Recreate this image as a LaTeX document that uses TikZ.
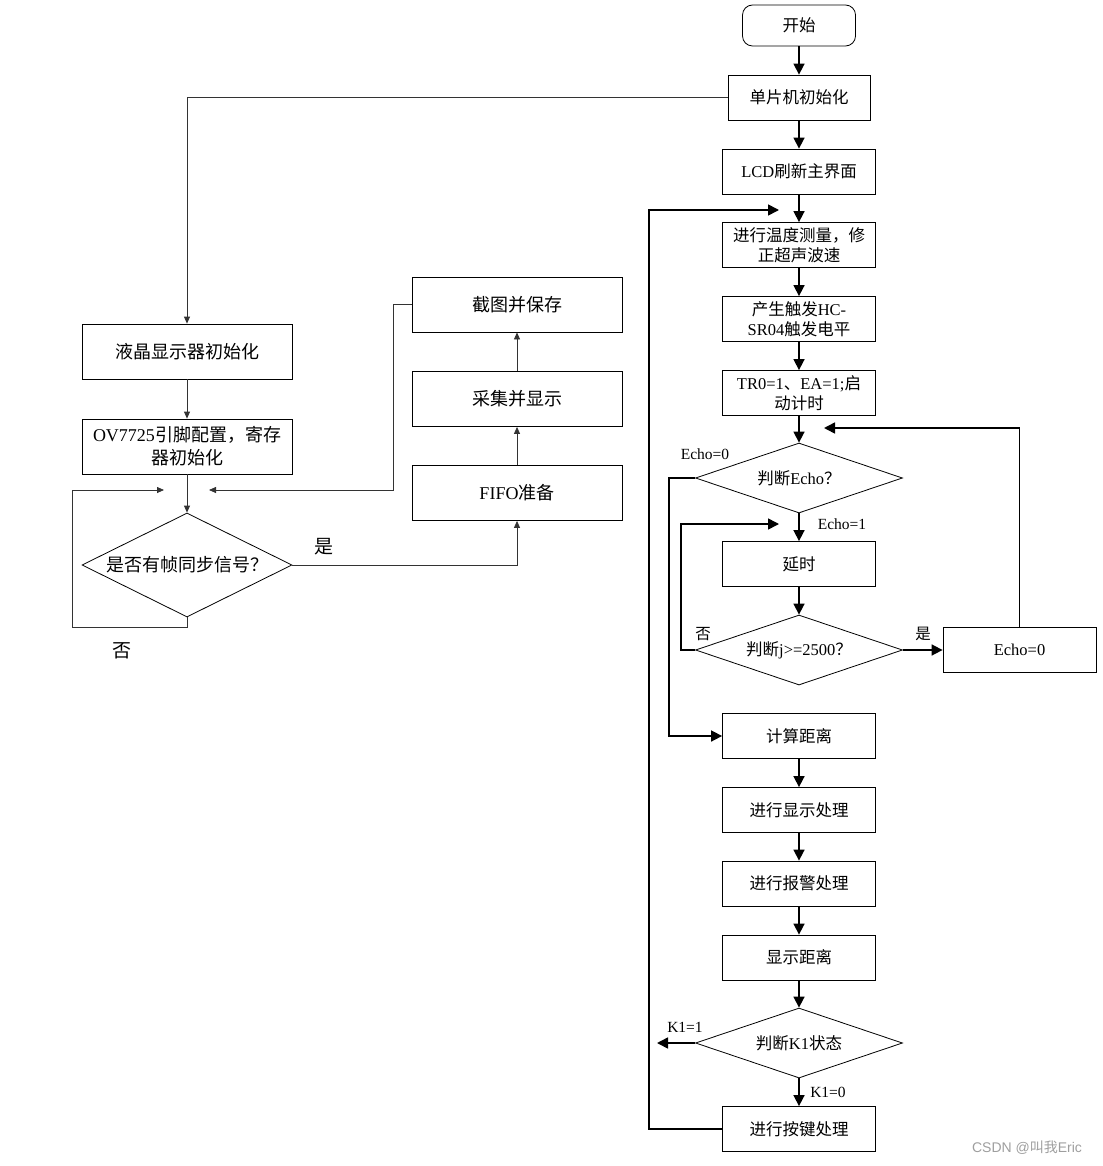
\documentclass[tikz,border=0pt]{standalone}
\usepackage{fontspec}
\setmainfont{Liberation Serif}
\newfontfamily\cjk{Noto Sans CJK SC}
\newfontfamily\wmfont{Liberation Sans}
\usetikzlibrary{arrows.meta,shapes.geometric}
\newcommand{\zh}[1]{{\cjk #1}}

\begin{document}
\begin{tikzpicture}[
  x=1pt,y=-1pt,
  every node/.style={align=center,font=\fontsize{16.5}{20}\selectfont},
  box/.style={draw,line width=0.8pt,minimum width=153pt,minimum height=45pt,inner sep=2pt},
  lbox/.style={draw,line width=0.8pt,minimum width=210pt,minimum height=55pt,inner sep=2pt,font=\fontsize{18}{23}\selectfont},
  dec/.style={diamond,draw,line width=0.8pt,aspect=3,minimum width=207pt,minimum height=70pt,inner sep=0pt},
  arr/.style={-{Triangle[length=11pt,width=11pt]},line width=1.6pt},
  tarr/.style={-{Triangle[length=7pt,width=6pt]},line width=0.8pt,color=black!80},
  lbl/.style={font=\fontsize{15.5}{18}\selectfont}
]
\useasboundingbox (0,0) rectangle (1102,1166);

% right column
\node[draw,rounded corners=10pt,line width=0.8pt,minimum width=113pt,minimum height=41pt] (start) at (799,25.5) {\zh{开始}};
\node[box,minimum width=142pt] (mcu) at (799,97.5) {\zh{单片机初始化}};
\node[box] (lcd) at (799,171.5) {LCD\zh{刷新主界面}};
\node[box] (temp) at (799,245) {\zh{进行温度测量，修}\\\zh{正超声波速}};
\node[box] (trig) at (799,319) {\zh{产生触发}HC-\\SR04\zh{触发电平}};
\node[box] (tr0) at (799,393) {TR0=1\zh{、}EA=1;\zh{启}\\\zh{动计时}};
\node[dec] (d1) at (799,478) {\zh{判断}Echo\zh{？}};
\node[box] (delay) at (799,564) {\zh{延时}};
\node[dec] (d2) at (799,650) {\zh{判断}j>=2500\zh{？}};
\node[box] (e0) at (1019.5,650) {Echo=0};
\node[box] (calc) at (799,736) {\zh{计算距离}};
\node[box] (disp) at (799,810) {\zh{进行显示处理}};
\node[box] (alarm) at (799,883.5) {\zh{进行报警处理}};
\node[box] (show) at (799,957.5) {\zh{显示距离}};
\node[dec] (d3) at (799,1043) {\zh{判断}K1\zh{状态}};
\node[box] (key) at (799,1129) {\zh{进行按键处理}};

% left part
\node[lbox] (lcdi) at (187,351.5) {\zh{液晶显示器初始化}};
\node[lbox] (ov) at (187,446.5) {OV7725\zh{引脚配置，寄存}\\\zh{器初始化}};
\node[dec,aspect=2,minimum width=210pt,minimum height=104pt,font=\fontsize{18}{20}\selectfont] (sync) at (187,565) {\zh{是否有帧同步信号？}};
\node[lbox] (fifo) at (517,493) {FIFO\zh{准备}};
\node[lbox] (coll) at (517,399) {\zh{采集并显示}};
\node[lbox] (shot) at (517,304.5) {\zh{截图并保存}};

\coordinate (fb) at (824,428);
\coordinate (lp) at (779,524);
\coordinate (kout) at (657,1043);
\coordinate (kc) at (649,210);
\coordinate (top) at (779,210);
\coordinate (nc) at (72,627);
\coordinate (nl) at (164,490);
\coordinate (nr) at (209,490);

\draw[arr] (start) -- (mcu);
\draw[arr] (mcu) -- (lcd);
\draw[arr] (lcd) -- (temp);
\draw[arr] (temp) -- (trig);
\draw[arr] (trig) -- (tr0);
\draw[arr] (tr0) -- (d1);
\draw[arr] (d1) -- (delay);
\draw[arr] (delay) -- (d2);
\draw[arr] (d2) -- (e0);
\draw[arr] (e0.north) |- (fb);
\draw[arr] (d2.west) -- ++(-14,0) |- (lp);
\draw[arr] (d1.west) -- ++(-26,0) |- (calc.west);
\draw[arr] (calc) -- (disp);
\draw[arr] (disp) -- (alarm);
\draw[arr] (alarm) -- (show);
\draw[arr] (show) -- (d3);
\draw[arr] (d3) -- (key);
\draw[arr] (d3.west) -- (kout);
\draw[arr] (key.west) -| (kc) -- (top);

\draw[tarr] (mcu.west) -| (lcdi.north);
\draw[tarr] (lcdi) -- (ov);
\draw[tarr] (ov) -- (sync);
\draw[tarr] (sync.south) |- (nc) |- (nl);
\draw[tarr] (sync.east) -| (fifo.south);
\draw[tarr] (fifo) -- (coll);
\draw[tarr] (coll) -- (shot);
\draw[tarr] (shot.west) -- ++(-18,0) |- (nr);

% labels
\node[lbl] (l1) at (705,454) {Echo=0};
\node[lbl] (l2) at (842,524) {Echo=1};
\node[lbl] (l3) at (703,634) {\zh{否}};
\node[lbl] (l4) at (923,634) {\zh{是}};
\node[lbl] (l5) at (685,1027) {K1=1};
\node[lbl] (l6) at (828,1092) {K1=0};
\node[font=\fontsize{19}{21}\selectfont] (l7) at (324,547) {\zh{是}};
\node[font=\fontsize{19}{21}\selectfont] (l8) at (122,651) {\zh{否}};
\node[font=\wmfont\fontsize{14}{16}\selectfont,text=black!38] (wm) at (1027,1148) {CSDN @\zh{叫我}Eric};
\end{tikzpicture}
\end{document}
